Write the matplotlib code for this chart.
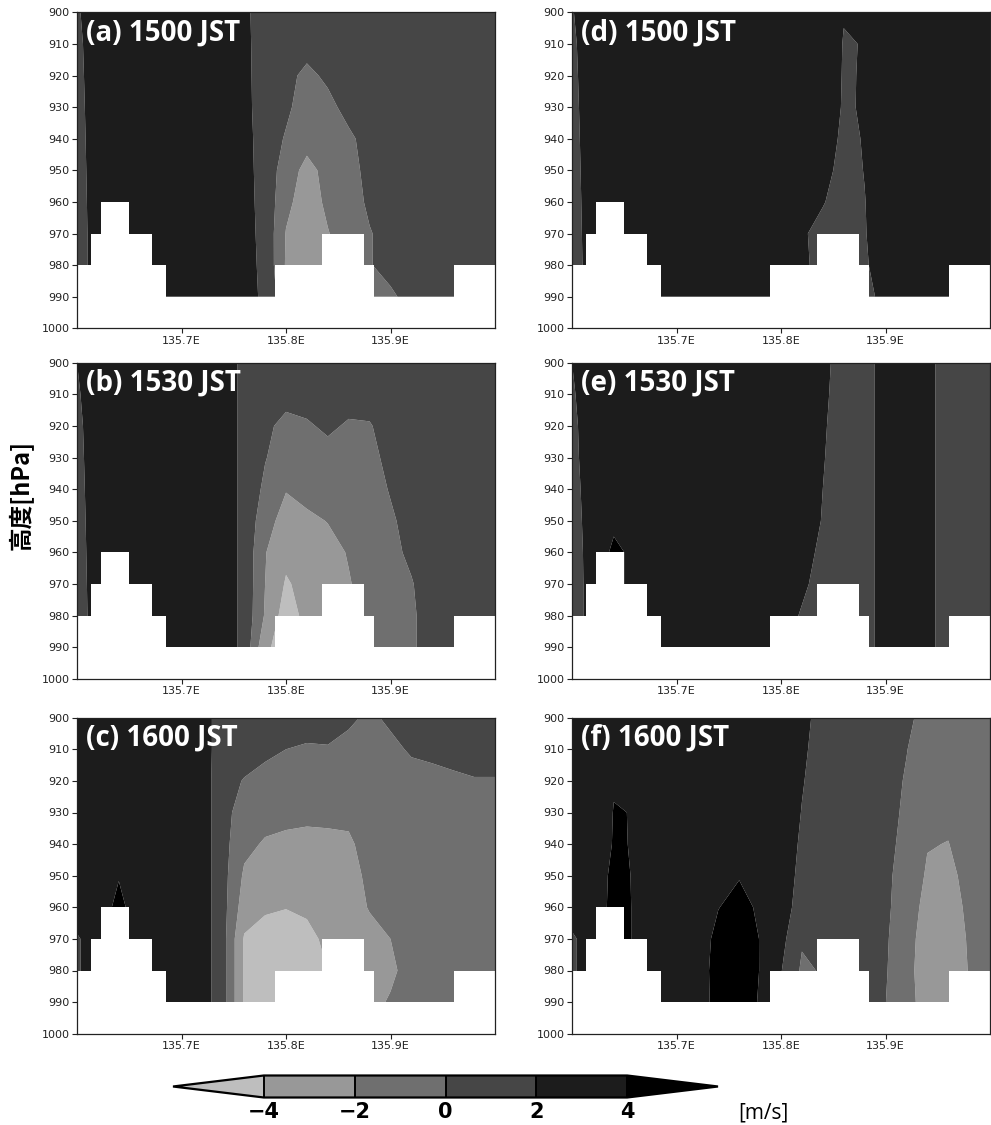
import matplotlib
matplotlib.use("Agg")
import numpy as np
import matplotlib.pyplot as plt

# ---------------- data ----------------
lon = [135.60, 135.62, 135.64, 135.66, 135.68, 135.70, 135.72, 135.74, 135.76, 135.78,
       135.80, 135.82, 135.84, 135.86, 135.88, 135.90, 135.92, 135.94, 135.96, 135.98, 136.00]
pres = [900, 910, 920, 930, 940, 950, 960, 970, 980, 990]

terrain_edges = [135.600, 135.6135, 135.623, 135.650, 135.6715, 135.685, 135.789,
                 135.834, 135.875, 135.884, 135.9605, 136.000]
terrain_psfc = [980, 970, 960, 970, 980, 990, 980, 970, 980, 990, 980]

levels = [-4, -2, 0, 2, 4]
shade_colors = ['#bebebe', '#989898', '#6f6f6f', '#464646', '#1c1c1c', '#000000']
cbar_ticklabels = ['\u22124', '\u22122', '0', '2', '4']
yticks = [900, 910, 920, 930, 940, 950, 960, 970, 980, 990, 1000]
xticks = [135.7, 135.8, 135.9]
xticklabels = ['135.7E', '135.8E', '135.9E']
titles = ['(a) 1500 JST', '(b) 1530 JST', '(c) 1600 JST',
          '(d) 1500 JST', '(e) 1530 JST', '(f) 1600 JST']

#          .60  .62  .64  .66  .68  .70  .72  .74  .76  .78   .80   .82   .84   .86   .88   .90   .92   .94   .96   .98  136.0
wind_a = [[1.8, 3.0, 3.0, 3.0, 3.0, 3.0, 3.0, 3.0, 2.6, 0.6,  1.0,  1.0,  1.0,  1.0,  1.0,  1.0,  1.0,  1.0,  1.0,  1.0,  1.0],
          [1.6, 3.0, 3.0, 3.0, 3.0, 3.0, 3.0, 3.0, 2.6, 0.8,  0.9,  0.8,  1.0,  1.0,  1.0,  1.0,  1.0,  1.0,  1.0,  1.0,  1.0],
          [1.5, 3.0, 3.0, 3.0, 3.0, 3.0, 3.0, 3.0, 2.6, 0.9,  0.6, -0.5,  0.4,  1.0,  1.0,  1.0,  1.0,  1.0,  1.0,  1.0,  1.0],
          [1.4, 3.0, 3.0, 3.0, 3.0, 3.0, 3.0, 3.0, 2.6, 1.0,  0.4, -1.0, -0.6,  0.7,  1.0,  1.0,  1.0,  1.0,  1.0,  1.0,  1.0],
          [1.3, 3.0, 3.0, 3.0, 3.0, 3.0, 3.0, 3.0, 2.6, 1.2, -0.2, -1.3, -1.0, -0.4,  0.8,  1.0,  1.0,  1.0,  1.0,  1.0,  1.0],
          [1.2, 3.0, 3.0, 3.0, 3.0, 3.0, 3.0, 3.0, 2.6, 1.3, -1.0, -2.6, -1.4, -0.6,  0.5,  1.0,  1.0,  1.0,  1.0,  1.0,  1.0],
          [1.1, 3.0, 3.0, 3.0, 3.0, 3.0, 3.0, 3.0, 2.6, 1.4, -1.5, -3.0, -1.6, -0.8,  0.3,  1.0,  1.0,  1.0,  1.0,  1.0,  1.0],
          [1.0, 3.0, 3.0, 3.0, 3.0, 3.0, 3.0, 3.0, 2.6, 1.5, -2.1, -3.2, -2.1, -1.0, -0.1,  0.6,  1.0,  1.0,  1.0,  1.0,  1.0],
          [1.0, 3.0, 3.0, 3.0, 3.0, 3.0, 3.0, 3.0, 2.6, 1.6, -2.2, -3.5, -2.5, -1.2, -0.1,  0.6,  1.0,  1.0,  1.0,  1.0,  1.0],
          [1.0, 3.0, 3.0, 3.0, 3.0, 3.0, 3.0, 3.0, 2.6, 1.7, -1.5, -3.0, -2.2, -1.2, -0.8, -0.3,  0.6,  1.0,  1.0,  1.0,  1.0]]

wind_b = [[2.0, 3.0, 3.0, 3.0, 3.0, 3.0, 3.0, 3.0, 1.5, 1.0,  1.0,  1.0,  1.0,  1.0,  1.0,  1.0,  1.0,  1.0,  1.0,  1.0,  1.0],
          [1.8, 3.0, 3.0, 3.0, 3.0, 3.0, 3.0, 3.0, 1.5, 0.8,  0.5,  0.7,  0.9,  0.7,  0.6,  0.9,  1.0,  1.0,  1.0,  1.0,  1.0],
          [1.6, 3.0, 3.0, 3.0, 3.0, 3.0, 3.0, 3.0, 1.5, 0.3, -0.4, -0.2,  0.3, -0.2, -0.1,  0.6,  1.0,  1.0,  1.0,  1.0,  1.0],
          [1.5, 3.0, 3.0, 3.0, 3.0, 3.0, 3.0, 3.0, 1.5, 0.1, -1.0, -1.2, -0.6, -0.8, -0.4,  0.4,  1.0,  1.0,  1.0,  1.0,  1.0],
          [1.4, 3.0, 3.0, 3.0, 3.0, 3.0, 3.0, 3.0, 1.5, -0.4, -1.9, -1.5, -1.0, -0.9, -0.6,  0.1,  0.8,  1.0,  1.0,  1.0,  1.0],
          [1.3, 3.0, 3.0, 3.0, 3.0, 3.0, 3.0, 3.0, 1.5, -1.2, -2.8, -2.3, -1.95, -1.5, -0.9, -0.2,  0.5,  1.0,  1.0,  1.0,  1.0],
          [1.2, 3.0, 3.0, 3.0, 3.0, 3.0, 3.0, 3.0, 1.5, -1.9, -3.5, -3.0, -2.5, -1.9, -1.2, -0.4,  0.3,  1.0,  1.0,  1.0,  1.0],
          [1.1, 3.0, 3.0, 3.0, 3.0, 3.0, 3.0, 3.0, 1.5, -2.0, -4.2, -3.4, -2.8, -2.1, -1.4, -0.6, -0.1,  0.8,  1.0,  1.0,  1.0],
          [1.0, 3.0, 3.0, 3.0, 3.0, 3.0, 3.0, 3.0, 1.5, -2.2, -5.0, -3.4, -3.0, -2.4, -1.6, -0.9, -0.2,  0.6,  1.0,  1.0,  1.0],
          [1.0, 3.0, 3.0, 3.0, 3.0, 3.0, 3.0, 3.0, 1.5, -3.6, -5.0, -4.0, -3.0, -2.4, -1.8, -1.0, -0.2,  0.6,  1.0,  1.0,  1.0]]

wind_c = [[3.0, 3.0, 3.0, 3.0, 3.0, 3.0, 3.0, 0.8, 1.0, 1.0,  0.9,  0.8,  0.6,  0.3, -0.3,  0.3,  0.8,  1.0,  1.0,  1.0,  1.0],
          [3.0, 3.0, 3.0, 3.0, 3.0, 3.0, 3.0, 0.8, 0.8, 0.4,  0.0, -0.2, -0.1, -0.5, -0.8, -0.4,  0.2,  0.4,  0.6,  0.7,  0.7],
          [3.0, 3.0, 3.0, 3.0, 3.0, 3.0, 3.0, 0.65, -0.1, -0.6, -0.8, -0.9, -0.9, -1.0, -1.2, -0.9, -0.6, -0.5, -0.3, -0.1, -0.1],
          [3.0, 3.0, 3.0, 3.0, 3.0, 3.0, 3.0, 0.65, -0.9, -1.3, -1.5, -1.6, -1.6, -1.7, -1.4, -1.0, -0.8, -0.7, -0.6, -0.5, -0.5],
          [3.0, 3.0, 3.0, 3.0, 3.0, 3.0, 3.0, 0.65, -1.5, -2.2, -2.4, -2.5, -2.4, -2.2, -1.5, -1.2, -1.0, -0.9, -0.8, -0.8, -0.8],
          [3.0, 3.0, 3.9, 3.0, 3.0, 3.0, 3.0, 0.65, -2.3, -3.0, -3.2, -3.2, -3.0, -2.5, -1.7, -1.3, -1.1, -1.0, -1.0, -1.0, -1.0],
          [3.0, 3.0, 4.5, 3.0, 3.0, 3.0, 3.0, 0.65, -3.0, -3.8, -3.95, -3.7, -3.2, -2.7, -1.9, -1.6, -1.3, -1.2, -1.1, -1.1, -1.1],
          [1.8, 3.0, 4.5, 3.0, 3.0, 3.0, 3.0, 0.65, -4.2, -4.6, -4.8, -4.5, -3.6, -3.0, -2.5, -2.0, -1.5, -1.3, -1.2, -1.2, -1.2],
          [1.8, 3.0, 3.0, 3.0, 3.0, 3.0, 3.0, 0.65, -4.2, -4.8, -5.0, -4.8, -4.0, -3.2, -2.7, -2.2, -1.6, -1.3, -1.2, -1.2, -1.2],
          [1.8, 3.0, 3.0, 3.0, 3.0, 3.0, 3.0, 0.65, -4.2, -4.8, -5.0, -4.8, -4.0, -3.2, -2.3, -1.9, -1.5, -1.3, -1.2, -1.2, -1.2]]

wind_d = [[1.9, 3.0, 3.0, 3.0, 3.0, 3.0, 3.0, 3.0, 3.0, 3.0, 3.0, 3.0, 3.0, 2.1, 2.6, 3.0, 3.0, 3.0, 3.0, 3.0, 3.0],
          [1.7, 3.0, 3.0, 3.0, 3.0, 3.0, 3.0, 3.0, 3.0, 3.0, 3.0, 3.0, 3.4, 1.9, 2.05, 3.0, 3.0, 3.0, 3.0, 3.0, 3.0],
          [1.6, 3.0, 3.0, 3.0, 3.0, 3.0, 3.0, 3.0, 3.0, 3.0, 3.0, 3.0, 3.4, 1.85, 2.1, 3.0, 3.0, 3.0, 3.0, 3.0, 3.0],
          [1.5, 3.0, 3.0, 3.0, 3.0, 3.0, 3.0, 3.0, 3.0, 3.0, 3.0, 3.0, 3.3, 1.8, 2.15, 3.0, 3.0, 3.0, 3.0, 3.0, 3.0],
          [1.4, 3.0, 3.0, 3.0, 3.0, 3.0, 3.0, 3.0, 3.0, 3.0, 3.0, 3.0, 3.0, 1.6, 2.1, 3.0, 3.0, 3.0, 3.0, 3.0, 3.0],
          [1.3, 3.0, 3.0, 3.0, 3.0, 3.0, 3.0, 3.0, 3.0, 3.0, 3.0, 3.0, 2.6, 1.4, 2.05, 3.0, 3.0, 3.0, 3.0, 3.0, 3.0],
          [1.2, 3.0, 3.0, 3.0, 3.0, 3.0, 3.0, 3.0, 3.0, 3.0, 3.0, 3.0, 2.1, 1.3, 1.95, 3.0, 3.0, 3.0, 3.0, 3.0, 3.0],
          [1.1, 3.0, 3.0, 3.0, 3.0, 3.0, 3.0, 3.0, 3.0, 3.0, 3.0, 2.2, 1.5, 1.2, 1.9, 3.0, 3.0, 3.0, 3.0, 3.0, 3.0],
          [1.0, 3.0, 3.0, 3.0, 3.0, 3.0, 3.0, 3.0, 3.0, 3.0, 3.0, 2.3, 1.5, 1.2, 1.8, 2.8, 3.0, 3.0, 3.0, 3.0, 3.0],
          [1.0, 3.0, 3.0, 3.0, 3.0, 3.0, 3.0, 3.0, 3.0, 3.0, 3.0, 2.3, 1.5, 1.2, 1.5, 2.5, 3.0, 3.0, 3.0, 3.0, 3.0]]

wind_e = [[2.0, 3.0, 3.0, 3.0, 3.0, 3.0, 3.0, 3.0, 3.0, 3.0, 3.0, 3.0, 2.5, 1.2, 1.2, 2.9, 3.0, 2.5, 1.2, 1.0, 1.0],
          [1.8, 3.0, 3.0, 3.0, 3.0, 3.0, 3.0, 3.0, 3.0, 3.0, 3.0, 3.0, 2.35, 1.2, 1.2, 2.9, 3.0, 2.5, 1.2, 1.0, 1.0],
          [1.6, 3.0, 3.0, 3.0, 3.0, 3.0, 3.0, 3.0, 3.0, 3.0, 3.0, 3.0, 2.2, 1.2, 1.2, 2.9, 3.0, 2.5, 1.2, 1.0, 1.0],
          [1.5, 3.0, 3.0, 3.0, 3.0, 3.0, 3.0, 3.0, 3.0, 3.0, 3.0, 3.0, 2.1, 1.2, 1.2, 2.9, 3.0, 2.5, 1.2, 1.0, 1.0],
          [1.3, 3.0, 3.0, 3.0, 3.0, 3.0, 3.0, 3.0, 3.0, 3.0, 3.0, 3.0, 2.0, 1.2, 1.2, 2.9, 3.0, 2.5, 1.2, 1.0, 1.0],
          [1.1, 3.0, 3.7, 3.0, 3.0, 3.0, 3.0, 3.0, 3.0, 3.0, 3.0, 3.0, 1.9, 1.2, 1.2, 2.9, 3.0, 2.5, 1.2, 1.0, 1.0],
          [0.9, 3.0, 4.3, 3.7, 3.0, 3.0, 3.0, 3.0, 3.0, 3.0, 3.0, 3.0, 1.4, 1.2, 1.2, 2.9, 3.0, 2.5, 1.2, 1.0, 1.0],
          [0.8, 3.0, 4.3, 3.7, 3.0, 3.0, 3.0, 3.0, 3.0, 3.0, 3.0, 2.4, 1.2, 1.2, 1.2, 2.9, 3.0, 2.5, 1.2, 1.0, 1.0],
          [0.8, 3.0, 3.0, 3.0, 3.0, 3.0, 3.0, 3.0, 3.0, 3.0, 3.0, 1.8, 1.2, 1.2, 1.2, 2.9, 3.0, 2.5, 1.2, 1.0, 1.0],
          [0.8, 3.0, 3.0, 3.0, 3.0, 3.0, 3.0, 3.0, 3.0, 3.0, 3.0, 1.6, 1.2, 1.2, 1.2, 2.9, 3.0, 2.5, 1.2, 1.0, 1.0]]

wind_f = [[3.0, 3.0, 3.0, 3.0, 3.0, 3.0, 3.0, 3.0, 3.0, 3.0, 3.0, 2.4, 1.5, 1.3, 1.1, 0.8, 0.38, -0.62, -1.0, -1.0, -1.0],
          [3.0, 3.0, 3.0, 3.0, 3.0, 3.0, 3.0, 3.0, 3.0, 3.0, 3.0, 2.25, 1.4, 1.2, 1.0, 0.7, 0.05, -0.8, -1.0, -1.0, -1.0],
          [3.0, 3.0, 3.9, 3.0, 3.0, 3.0, 3.0, 3.0, 3.0, 3.0, 3.0, 2.1, 1.3, 1.1, 0.9, 0.6, -0.13, -1.0, -1.2, -1.0, -1.0],
          [3.0, 3.0, 4.05, 3.97, 3.0, 3.0, 3.0, 3.0, 3.0, 3.0, 3.0, 1.95, 1.2, 1.0, 0.8, 0.5, -0.25, -1.4, -1.6, -1.1, -1.0],
          [3.0, 3.0, 4.1, 3.95, 3.0, 3.0, 3.0, 3.0, 3.0, 3.0, 3.0, 1.75, 1.1, 0.9, 0.7, 0.4, -0.4, -1.9, -2.05, -1.2, -1.0],
          [3.0, 3.0, 4.4, 3.9, 3.0, 3.0, 3.0, 3.0, 3.9, 3.2, 3.0, 1.5, 1.0, 0.8, 0.6, 0.3, -0.6, -2.25, -2.6, -1.27, -1.0],
          [3.0, 3.0, 4.5, 3.9, 3.0, 3.0, 3.0, 3.95, 4.6, 3.7, 3.0, 1.1, 0.9, 0.7, 0.5, 0.25, -0.7, -2.8, -3.0, -1.55, -1.0],
          [1.7, 3.0, 4.5, 3.9, 3.0, 3.0, 3.0, 4.54, 4.9, 3.95, 2.6, 0.2, 0.6, 0.6, 0.4, 0.15, -0.8, -3.47, -3.6, -1.72, -1.0],
          [1.7, 3.0, 3.0, 3.0, 3.0, 3.0, 3.0, 4.8, 5.0, 3.95, 2.1, -0.3, 0.15, 0.5, 0.3, 0.1, -0.9, -3.8, -3.9, -1.86, -1.0],
          [1.7, 3.0, 3.0, 3.0, 3.0, 3.0, 3.0, 4.7, 4.9, 3.85, 2.1, -0.3, 0.15, 0.5, 0.3, 0.02, -0.9, -3.34, -3.5, -1.89, -1.0]]

panels = [wind_a, wind_b, wind_c, wind_d, wind_e, wind_f]

# ---------------- layout ----------------
fig = plt.figure(figsize=(9.91, 11.25), dpi=100)
W, H = 991.0, 1125.0
col_left = [77 / W, 572 / W]
ax_w = 418 / W
row_top_px = [12.3, 362.7, 717.7]
ax_h = 316 / H

X, Y = np.meshgrid(np.array(lon), np.array(pres))
cs = None
for k, data in enumerate(panels):
    col = k // 3
    row = k % 3
    bottom = 1 - (row_top_px[row] + 316) / H
    ax = fig.add_axes([col_left[col], bottom, ax_w, ax_h])
    cs = ax.contourf(X, Y, np.array(data), levels=levels, colors=shade_colors,
                     extend='both', antialiased=True)
    ax.stairs(terrain_psfc, terrain_edges, baseline=1000, fill=True,
              color='white', zorder=2)
    ax.set_xlim(lon[0], lon[-1])
    ax.set_ylim(1000, 900)
    ax.set_yticks(yticks)
    ax.set_yticklabels([str(v) for v in yticks])
    ax.set_xticks(xticks)
    ax.set_xticklabels(xticklabels)
    ax.tick_params(labelsize=8, length=3.5, width=0.8, direction='out',
                   colors='#222222', pad=2)
    for s in ax.spines.values():
        s.set_linewidth(0.9)
        s.set_color('#222222')
        s.set_zorder(4)
    ax.text(0.022, 0.934, titles[k], transform=ax.transAxes, color='white',
            fontsize=20, fontweight='bold', family='Open Sans',
            ha='left', va='center', zorder=5)

fig.text(21 / W, 1 - 495 / H, '高度[hPa]', rotation=90, fontsize=17,
         fontweight='bold', family=['Noto Sans CJK JP', 'DejaVu Sans'],
         ha='center', va='center')

# ---------------- colorbar ----------------
cax = fig.add_axes([173 / W, 1 - 1097.5 / H, 545 / W, 22 / H])
cb = fig.colorbar(cs, cax=cax, orientation='horizontal', extendfrac=0.25,
                  drawedges=True, ticks=levels)
cb.ax.set_xticklabels(cbar_ticklabels)
cb.ax.tick_params(length=0, labelsize=15, pad=3)
for t in cb.ax.get_xticklabels():
    t.set_fontweight('bold')
cb.outline.set_linewidth(1.6)
cb.dividers.set_linewidth(1.4)
cb.dividers.set_color('black')
fig.text(763 / W, 1 - 1113 / H, '[m/s]', fontsize=15, family='Open Sans',
         ha='center', va='center')

fig.savefig('out.png', dpi=100)
